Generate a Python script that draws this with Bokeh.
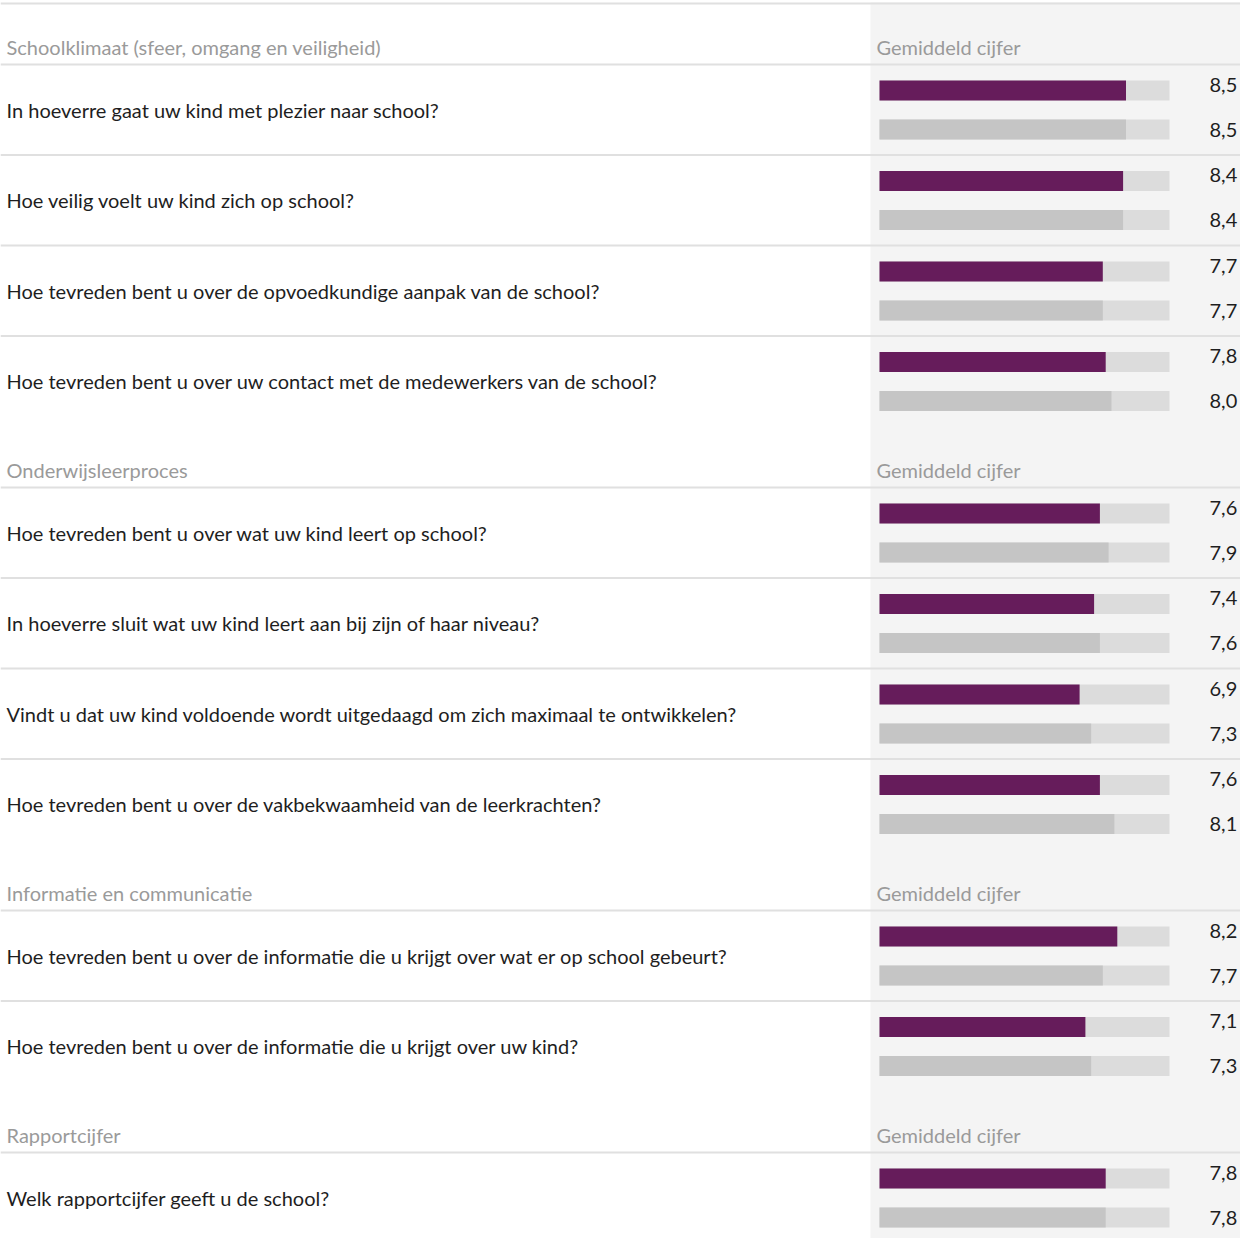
from bokeh.plotting import figure
from bokeh.models import Range1d, ColumnDataSource
from bokeh.core.properties import value
from bokeh.embed import file_html
from bokeh.resources import INLINE

# ---------------- data ----------------
sections = [
    "Schoolklimaat (sfeer, omgang en veiligheid)",
    "Onderwijsleerproces",
    "Informatie en communicatie",
    "Rapportcijfer",
]
section_counts = [4, 4, 2, 1]
questions = [
    "In hoeverre gaat uw kind met plezier naar school?",
    "Hoe veilig voelt uw kind zich op school?",
    "Hoe tevreden bent u over de opvoedkundige aanpak van de school?",
    "Hoe tevreden bent u over uw contact met de medewerkers van de school?",
    "Hoe tevreden bent u over wat uw kind leert op school?",
    "In hoeverre sluit wat uw kind leert aan bij zijn of haar niveau?",
    "Vindt u dat uw kind voldoende wordt uitgedaagd om zich maximaal te ontwikkelen?",
    "Hoe tevreden bent u over de vakbekwaamheid van de leerkrachten?",
    "Hoe tevreden bent u over de informatie die u krijgt over wat er op school gebeurt?",
    "Hoe tevreden bent u over de informatie die u krijgt over uw kind?",
    "Welk rapportcijfer geeft u de school?",
]
school_scores = [8.5, 8.4, 7.7, 7.8, 7.6, 7.4, 6.9, 7.6, 8.2, 7.1, 7.8]
benchmark_scores = [8.5, 8.4, 7.7, 8.0, 7.9, 7.6, 7.3, 8.1, 7.7, 7.3, 7.8]
scale_max = 10
column_header = "Gemiddeld cijfer"

# ---------------- layout ----------------
W, H = 1240, 1238
BAR_X0, PX_PER_UNIT = 887, 29.0   # page px where value 0 lies, px per unit


def px(page_x):
    return (page_x - BAR_X0) / PX_PER_UNIT


FONT = "Lato"
FS = "20px"
PURPLE = "#661c5b"
GREY_BAR = "#c5c5c5"
TRACK = "#dcdcdc"
PANEL = "#f4f4f4"
LINE = "#e0e0e0"
HEAD_COL = "#9a9a9a"
TEXT_COL = "#1e1e1e"

p = figure(width=W, height=H, output_backend="svg", toolbar_location=None,
           x_range=Range1d(px(8), px(8 + W)), y_range=Range1d(8 + H, 8),
           min_border=0, x_axis_location=None, y_axis_location=None,
           background_fill_color="white", border_fill_color="white")
p.outline_line_color = None
p.xgrid.visible = False
p.ygrid.visible = False

ROW = 90.5
top = 11.0
header_y = []
sep_y = [top]
q_y, bar1_y, bar2_y, lab1_y, lab2_y = [], [], [], [], []
for s, n in zip(sections, section_counts):
    underline = top + 61
    header_y.append(top + 43)
    sep_y.append(underline)
    for i in range(n):
        rt = underline + i * ROW
        q_y.append(rt + 45)
        bar1_y.append(rt + 26)
        bar2_y.append(rt + 65)
        lab1_y.append(rt + 20)
        lab2_y.append(rt + 65)
        if i < n - 1:
            sep_y.append(rt + ROW)
    top = underline + n * ROW

# grey panel on the right
p.quad(left=[px(878)], right=[px(8 + W)], top=[10], bottom=[8 + H],
       fill_color=PANEL, line_color=None)

# separator lines
p.segment(x0=[px(8)] * len(sep_y), x1=[px(8 + W)] * len(sep_y),
          y0=sep_y, y1=sep_y, line_color=LINE, line_width=2)

# section headers
p.text(x=[px(14)] * len(sections), y=header_y, text=sections,
       text_font=value(FONT), text_font_size=FS, text_color=HEAD_COL,
       text_baseline="middle", text_align="left")
p.text(x=[px(884)] * len(sections), y=header_y, text=[column_header] * len(sections),
       text_font=value(FONT), text_font_size=FS, text_color=HEAD_COL,
       text_baseline="middle", text_align="left")

# questions
p.text(x=[px(14)] * len(questions), y=q_y, text=questions,
       text_font=value(FONT), text_font_size=FS, text_color=TEXT_COL,
       text_baseline="middle", text_align="left")

# bar tracks
all_y = bar1_y + bar2_y
p.hbar(y=all_y, left=0, right=[scale_max] * len(all_y), height=20,
       fill_color=TRACK, line_color=None)

# bars
src1 = ColumnDataSource(dict(y=bar1_y, v=school_scores))
src2 = ColumnDataSource(dict(y=bar2_y, v=benchmark_scores))
p.hbar(y="y", left=0, right="v", height=20, source=src1,
       fill_color=PURPLE, line_color=None)
p.hbar(y="y", left=0, right="v", height=20, source=src2,
       fill_color=GREY_BAR, line_color=None)


def fmt(v):
    return f"{v:.1f}".replace(".", ",")


p.text(x=[px(1217)] * len(school_scores), y=lab1_y,
       text=[fmt(v) for v in school_scores],
       text_font=value(FONT), text_font_size=FS, text_color=TEXT_COL,
       text_baseline="middle", text_align="left")
p.text(x=[px(1217)] * len(benchmark_scores), y=lab2_y,
       text=[fmt(v) for v in benchmark_scores],
       text_font=value(FONT), text_font_size=FS, text_color=TEXT_COL,
       text_baseline="middle", text_align="left")

open("out.html", "w").write(file_html(p, INLINE))
